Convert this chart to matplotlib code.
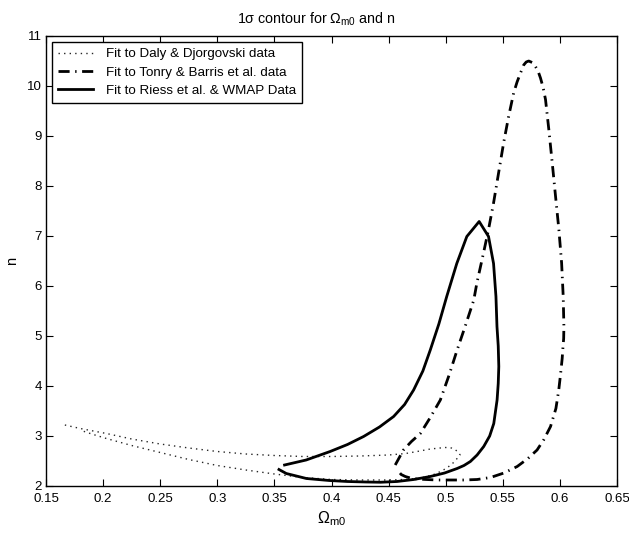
import matplotlib
matplotlib.use("Agg")
import matplotlib.pyplot as plt

plt.rcParams['font.family'] = ['Liberation Sans', 'DejaVu Sans']
plt.rcParams['mathtext.fontset'] = 'custom'
plt.rcParams['mathtext.rm'] = 'Liberation Sans'
plt.rcParams['mathtext.it'] = 'Liberation Sans:italic'

# Daly & Djorgovski (dotted)
daly_x = [0.1665, 0.18, 0.2029, 0.225, 0.25, 0.275, 0.30, 0.325, 0.35, 0.375, 0.40, 0.425, 0.45,
          0.465, 0.475, 0.4866, 0.495, 0.50, 0.505, 0.508, 0.511, 0.5126,
          0.510, 0.506, 0.501, 0.4955, 0.4895, 0.482, 0.475, 0.463, 0.45, 0.425, 0.40,
          0.375, 0.35, 0.325, 0.30, 0.275, 0.25, 0.225, 0.2029, 0.19, 0.1796]
daly_n = [3.22, 3.15, 3.05, 2.94, 2.84, 2.76, 2.69, 2.64, 2.61, 2.59, 2.59, 2.60, 2.62,
          2.65, 2.69, 2.74, 2.76, 2.77, 2.76, 2.73, 2.68, 2.62,
          2.55, 2.45, 2.36, 2.29, 2.23, 2.18, 2.15, 2.13, 2.12, 2.12, 2.13,
          2.17, 2.24, 2.32, 2.41, 2.53, 2.67, 2.81, 2.95, 3.04, 3.12]

# Tonry & Barris (dash-dot)
tonry_x = [0.4558, 0.463, 0.470, 0.4778, 0.4865, 0.4953, 0.503, 0.510, 0.517, 0.5246, 0.5273,
           0.5331, 0.5375, 0.5419, 0.5463, 0.5507, 0.5551, 0.5595, 0.5625, 0.5655, 0.5683,
           0.5705, 0.5727, 0.5757, 0.5786, 0.5810, 0.583, 0.5853, 0.5874, 0.5903, 0.5933,
           0.5962, 0.5991, 0.6015, 0.6029, 0.6035, 0.6033, 0.6025, 0.602, 0.6005, 0.599,
           0.5965, 0.5918, 0.586, 0.580, 0.572, 0.5626, 0.551, 0.5392, 0.5275, 0.5158,
           0.504, 0.4924, 0.4830, 0.4749, 0.4690, 0.4646, 0.4610, 0.4588]
tonry_n = [2.42, 2.72, 2.89, 3.05, 3.37, 3.72, 4.22, 4.72, 5.19, 5.72, 6.06,
           6.66, 7.13, 7.66, 8.26, 8.86, 9.39, 9.86, 10.08, 10.26, 10.42,
           10.48, 10.50, 10.47, 10.39, 10.29, 10.16, 9.97, 9.73, 9.13, 8.46,
           7.79, 7.13, 6.46, 5.79, 5.19, 4.95, 4.72, 4.55, 4.22, 3.92,
           3.55, 3.19, 2.93, 2.72, 2.55, 2.39, 2.26, 2.17, 2.13, 2.12,
           2.12, 2.12, 2.13, 2.14, 2.16, 2.19, 2.23, 2.29]

# Riess et al. & WMAP (solid)
riess_x = [0.3589, 0.3778, 0.3988, 0.414, 0.4281, 0.442, 0.4544, 0.464, 0.4719, 0.480, 0.4865,
           0.494, 0.5009, 0.5097, 0.5185, 0.5293,
           0.5375, 0.5419, 0.5440, 0.5449, 0.5460, 0.5465, 0.5460, 0.5450, 0.5421, 0.5385,
           0.5333, 0.5275, 0.5216, 0.516, 0.510, 0.499,
           0.4865, 0.472, 0.4573, 0.443, 0.4300, 0.414, 0.3980, 0.378, 0.3604, 0.354]
riess_n = [2.42, 2.52, 2.69, 2.83, 2.99, 3.18, 3.39, 3.63, 3.92, 4.30, 4.72,
           5.24, 5.79, 6.45, 6.99, 7.29,
           6.99, 6.45, 5.79, 5.19, 4.80, 4.39, 4.05, 3.72, 3.25, 3.00,
           2.79, 2.62, 2.49, 2.41, 2.35, 2.26,
           2.19, 2.13, 2.09, 2.075, 2.08, 2.09, 2.11, 2.15, 2.25, 2.33]

x_ticks = [0.15, 0.2, 0.25, 0.3, 0.35, 0.4, 0.45, 0.5, 0.55, 0.6, 0.65]
x_tick_labels = ['0.15', '0.2', '0.25', '0.3', '0.35', '0.4', '0.45', '0.5', '0.55', '0.6', '0.65']
y_ticks = [2, 3, 4, 5, 6, 7, 8, 9, 10, 11]

labels = ['Fit to Daly & Djorgovski data',
          'Fit to Tonry & Barris et al. data',
          'Fit to Riess et al. & WMAP Data']

fig = plt.figure(figsize=(6.29, 5.35), dpi=100)
ax = fig.add_axes([46/629, 1-486/535, 571/629, 450/535])

ax.plot(daly_x, daly_n, color='0.15', lw=1.0, linestyle=(0, (1, 3)), label=labels[0])
ax.plot(tonry_x, tonry_n, color='black', lw=2.0, linestyle=(0, (4, 2, 0.5, 2)), label=labels[1])
ax.plot(riess_x, riess_n, color='black', lw=2.0, linestyle='-', label=labels[2])

ax.set_xlim(0.15, 0.65)
ax.set_ylim(2, 11)
ax.set_xticks(x_ticks)
ax.set_xticklabels(x_tick_labels)
ax.set_yticks(y_ticks)
ax.tick_params(direction='in', top=True, right=True, length=5, width=0.8,
               labelsize=9.5)
ax.tick_params(axis='x', pad=5)
ax.tick_params(axis='y', pad=3)
for s in ax.spines.values():
    s.set_linewidth(1.0)

ax.set_title(r'1σ contour for $\Omega_{\rm m0}$ and n', fontsize=10.3, pad=9,
             x=(316 - 46) / 571)
ax.set_xlabel(r'$\Omega_{\rm m0}$', fontsize=11.5, labelpad=3)
ax.set_ylabel('n', fontsize=10.5, labelpad=6)

leg = ax.legend(loc='upper left', fontsize=9.6, frameon=True, fancybox=False,
                edgecolor='black', framealpha=1, borderaxespad=0.45,
                handlelength=2.6, handletextpad=1.0, labelspacing=0.45,
                borderpad=0.45)
leg.get_frame().set_linewidth(1.0)

fig.savefig('out.png', dpi=100)
